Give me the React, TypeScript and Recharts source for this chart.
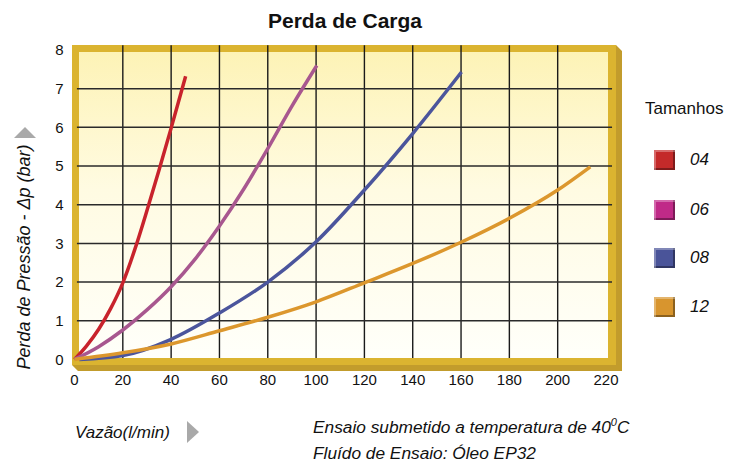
import React from 'react';
import { LineChart, Line, XAxis, YAxis, ReferenceLine } from 'recharts';

// ---- data ----
const sizes = ['04', '06', '08', '12'];
const flow04 = [0, 5, 10, 15, 20, 25, 30, 35, 40, 46];
const drop04 = [0, 0.35, 0.78, 1.32, 1.98, 2.85, 3.85, 4.9, 5.98, 7.32];
const flow06 = [0, 10, 20, 30, 40, 50, 60, 70, 80, 90, 100.3];
const drop06 = [0, 0.33, 0.76, 1.28, 1.88, 2.6, 3.45, 4.4, 5.45, 6.55, 7.6];
const flow08 = [2, 20, 40, 60, 80, 100, 120, 140, 160.2];
const drop08 = [0, 0.1, 0.52, 1.2, 2.0, 3.04, 4.38, 5.84, 7.43];
const flow12 = [0, 20, 40, 60, 80, 100, 120, 140, 160, 180, 200, 213.5];
const drop12 = [0, 0.17, 0.4, 0.74, 1.09, 1.49, 1.98, 2.48, 3.03, 3.65, 4.38, 4.98];
const xTicks = [0, 20, 40, 60, 80, 100, 120, 140, 160, 180, 200, 220];
const yTicks = [0, 1, 2, 3, 4, 5, 6, 7, 8];
const gridX = [20, 40, 60, 80, 100, 120, 140, 160, 180, 200];
const gridY = [1, 2, 3, 4, 5, 6, 7];

const lineColors = ['#c8232c', '#a8578f', '#4b559c', '#dc972d'];
const swatchColors = ['#c42a2a', '#c02a88', '#4a5499', '#d8952e'];

const toPoints = (xs: number[], ys: number[]) => xs.map((x, i) => ({ x, y: ys[i] }));
const seriesData = [
  toPoints(flow04, drop04),
  toPoints(flow06, drop06),
  toPoints(flow08, drop08),
  toPoints(flow12, drop12),
];

const FONT = '"Liberation Sans", Arial, Helvetica, sans-serif';

export default function App() {
  return (
    <div style={{ position: 'absolute', left: 0, top: 0, width: 738, height: 463, background: '#fff', fontFamily: FONT }}>
      {/* frame */}
      <svg width={738} height={463} style={{ position: 'absolute', left: 0, top: 0 }}>
        <defs>
          <linearGradient id="inner" x1="0" y1="0" x2="0" y2="1">
            <stop offset="0%" stopColor="#fdf3b6" />
            <stop offset="45%" stopColor="#fffbe2" />
            <stop offset="100%" stopColor="#fffffa" />
          </linearGradient>
        </defs>
        <polygon points="616,45 622,51 622,371 78,371 72,365 616,365" fill="#c29c2c" />
        <rect x={72} y={45} width={544} height={320} fill="#dbb430" />
        <rect x={79} y={52} width={529} height={306} fill="url(#inner)" />
      </svg>

      <div style={{ position: 'absolute', left: 0, top: 0 }}>
        <LineChart width={738} height={463} margin={{ top: 50, right: 132, left: 0, bottom: 73.6 }}>
          <XAxis
            type="number"
            dataKey="x"
            domain={[0, 220]}
            ticks={xTicks}
            interval={0}
            axisLine={false}
            tickLine={false}
            tickSize={0}
            tickMargin={15}
            height={30}
            tick={{ fill: '#111', fontSize: 15, fontFamily: FONT }}
          />
          <YAxis
            type="number"
            dataKey="y"
            domain={[0, 8]}
            ticks={yTicks}
            interval={0}
            axisLine={false}
            tickLine={false}
            tickSize={0}
            tickMargin={11}
            width={74.5}
            tick={{ fill: '#111', fontSize: 15, fontFamily: FONT }}
          />
          {gridX.map((g) => (
            <ReferenceLine
              key={'gx' + g}
              segment={[{ x: g, y: 0.036 }, { x: g, y: 8.12 }]}
              stroke="#1a1a1a"
              strokeWidth={1.4}
              ifOverflow="visible"
            />
          ))}
          {gridY.map((g) => (
            <ReferenceLine
              key={'gy' + g}
              segment={[{ x: 1, y: g }, { x: 222.5, y: g }]}
              stroke="#2a2a2a"
              strokeWidth={1.5}
              ifOverflow="visible"
            />
          ))}
          {seriesData.map((d, i) => (
            <Line
              key={sizes[i]}
              data={d}
              dataKey="y"
              type="monotone"
              stroke={lineColors[i]}
              strokeWidth={3.5}
              dot={false}
              activeDot={false}
              isAnimationActive={false}
            />
          ))}
        </LineChart>
      </div>

      {/* texts */}
      <svg width={738} height={463} style={{ position: 'absolute', left: 0, top: 0, pointerEvents: 'none' }}>
        <text x={345} y={28} textAnchor="middle" fontSize={21} fontWeight="bold" fill="#111" fontFamily={FONT}>
          Perda de Carga
        </text>
        <polygon points="14,138 36,138 25,127" fill="#a9a9a9" />
        <text
          transform="translate(30,257) rotate(-90)"
          textAnchor="middle"
          fontSize={18}
          fontStyle="italic"
          fill="#111"
          fontFamily={FONT}
        >
          Perda de Pressão - Δp (bar)
        </text>
        <text x={75} y={438} fontSize={17} fontStyle="italic" fill="#111" fontFamily={FONT}>
          Vazão(l/min)
        </text>
        <polygon points="187,421 187,443 199,432" fill="#a9a9a9" />
        <text x={313} y={433} fontSize={17.3} fontStyle="italic" fill="#111" fontFamily={FONT}>
          Ensaio submetido a temperatura de 40
          <tspan fontSize={11} dy={-7}>0</tspan>
          <tspan dy={7}>C</tspan>
        </text>
        <text x={313} y={459} fontSize={17.3} fontStyle="italic" fill="#111" fontFamily={FONT}>
          Fluído de Ensaio: Óleo EP32
        </text>
        <text x={645} y={114} fontSize={17} fill="#111" fontFamily={FONT}>
          Tamanhos
        </text>
      </svg>

      {/* legend */}
      {sizes.map((s, i) => {
        const cy = [160, 210, 258, 307][i];
        return (
          <div key={s} style={{ position: 'absolute', left: 654, top: cy - 10, height: 20, display: 'flex', alignItems: 'center' }}>
            <div
              style={{
                width: 21,
                height: 20,
                background: swatchColors[i],
                boxShadow: 'inset 2px 2px 0 rgba(255,255,255,0.3), inset -2px -2px 0 rgba(0,0,0,0.35)',
              }}
            />
            <span style={{ marginLeft: 15, fontSize: 17, fontStyle: 'italic', color: '#111', fontFamily: FONT }}>{s}</span>
          </div>
        );
      })}
    </div>
  );
}
